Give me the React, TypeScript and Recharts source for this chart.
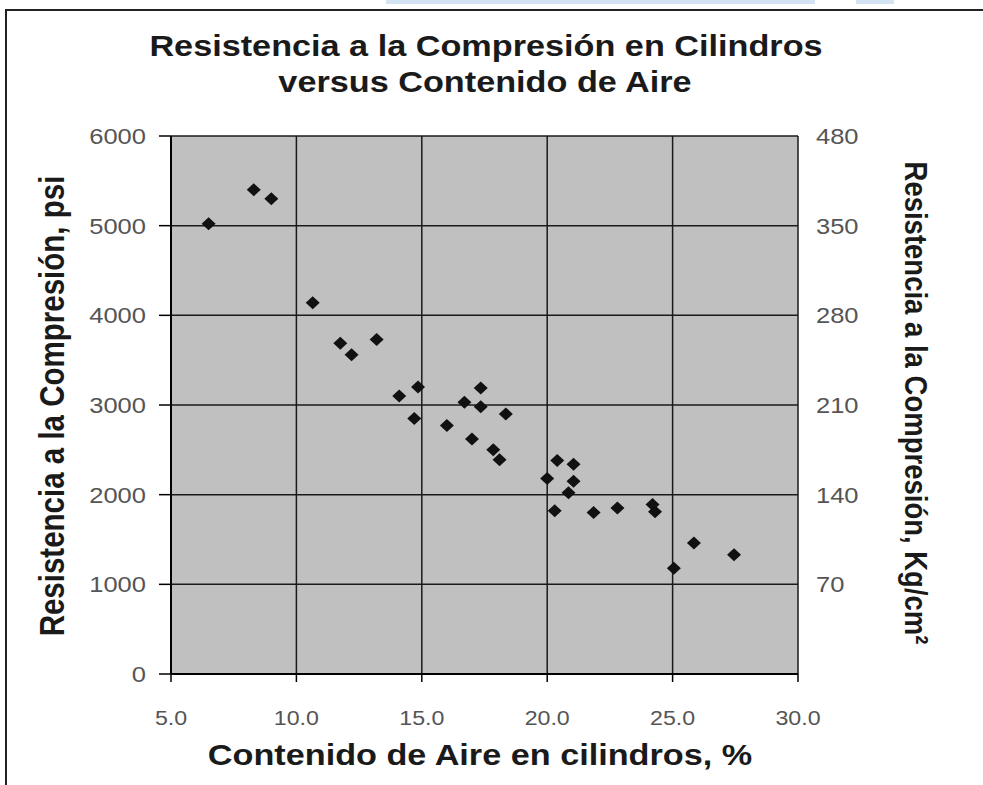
import React from 'react';
import { ScatterChart, Scatter, XAxis, YAxis, CartesianGrid } from 'recharts';

// % air content vs. cylinder compressive strength (psi)
const airContent = [
  6.5, 8.3, 9.0, 10.65, 11.75, 12.2, 13.2, 14.1, 14.85, 14.7, 16.0,
  16.7, 17.35, 17.35, 17.0, 17.85, 18.1, 18.35, 20.4, 21.05, 20.0,
  21.05, 20.85, 20.3, 21.85, 22.8, 24.2, 24.3, 25.85, 27.45, 25.05,
];
const strengthPsi = [
  5020, 5400, 5300, 4140, 3690, 3560, 3730, 3100, 3200, 2850, 2770,
  3030, 3190, 2980, 2620, 2500, 2390, 2900, 2380, 2340, 2180,
  2150, 2020, 1820, 1800, 1850, 1890, 1810, 1460, 1330, 1180,
];

const xTicks = [5, 10, 15, 20, 25, 30];
const psiTicks = [0, 1000, 2000, 3000, 4000, 5000, 6000];
const kgTickValues = [1000, 2000, 3000, 4000, 5000, 6000];
const kgTickLabels = ['70', '140', '210', '280', '350', '480'];

const FONT = '"Liberation Sans", Arial, sans-serif';
const SX = 1.16; // the source picture is a bit wider than tall

const points = airContent.map((x, i) => ({ x, y: strengthPsi[i] }));

function Diamond(props: any) {
  const { cx, cy } = props;
  if (cx == null || cy == null) return null;
  return (
    <polygon
      points={`${cx},${cy - 6.5} ${cx + 7},${cy} ${cx},${cy + 6.5} ${cx - 7},${cy}`}
      fill="#111"
    />
  );
}

// only there so the right-hand axis has a series to scale from
function Nothing() {
  return <g />;
}

function makeTick(anchor: 'start' | 'middle' | 'end', size: number, fmt: (v: number) => string) {
  return (p: any) => (
    <text
      transform={`translate(${p.x},${p.y}) scale(${SX},1)`}
      textAnchor={anchor}
      dominantBaseline="central"
      fontSize={size}
      fontFamily={FONT}
      fill="#555"
    >
      {fmt(p.payload.value)}
    </text>
  );
}

const labelStyle: React.CSSProperties = {
  position: 'absolute',
  whiteSpace: 'nowrap',
  fontFamily: FONT,
  fontWeight: 'bold',
  color: '#1a1a1a',
  lineHeight: 1,
};

export default function App() {
  return (
    <div style={{ position: 'absolute', left: 0, top: 0, width: 983, height: 785, background: '#fff', overflow: 'hidden' }}>
      <div style={{ position: 'absolute', left: 386, top: 0, width: 429, height: 4, background: '#d3e3f3' }} />
      <div style={{ position: 'absolute', left: 856, top: 0, width: 38, height: 4, background: '#d3e3f3' }} />

      <div style={{ ...labelStyle, left: 486, top: 46, fontSize: 29.5, transform: `translate(-50%,-50%) scaleX(${SX})` }}>
        Resistencia a la Compresión en Cilindros
      </div>
      <div style={{ ...labelStyle, left: 485, top: 82, fontSize: 29.5, transform: `translate(-50%,-50%) scaleX(${SX})` }}>
        versus Contenido de Aire
      </div>

      <div style={{ position: 'absolute', left: 0, top: 0 }}>
        <ScatterChart width={983} height={785} margin={{ top: 136, right: 0, bottom: 0, left: 0 }}>
          <CartesianGrid fill="#c0c0c0" stroke="#1a1a1a" strokeWidth={1.5} />
          <XAxis
            type="number"
            dataKey="x"
            domain={[5, 30]}
            ticks={xTicks}
            interval={0}
            height={111}
            tickSize={8}
            tickMargin={36}
            axisLine={{ stroke: '#000', strokeWidth: 2 }}
            tickLine={{ stroke: '#000', strokeWidth: 1.5 }}
            tick={makeTick('middle', 20, (v) => v.toFixed(1))}
          />
          <YAxis
            type="number"
            dataKey="y"
            domain={[0, 6000]}
            ticks={psiTicks}
            interval={0}
            width={171}
            tickSize={12}
            tickMargin={13}
            axisLine={{ stroke: '#000', strokeWidth: 2 }}
            tickLine={{ stroke: '#000', strokeWidth: 1.5 }}
            tick={makeTick('end', 22, (v) => String(v))}
          />
          <YAxis
            yAxisId="right"
            orientation="right"
            type="number"
            dataKey="y"
            domain={[0, 6000]}
            ticks={kgTickValues}
            interval={0}
            width={185}
            tickSize={0}
            tickMargin={18}
            axisLine={false}
            tickLine={false}
            tick={makeTick('start', 22, (v) => kgTickLabels[kgTickValues.indexOf(v)] ?? '')}
          />
          <Scatter data={points} shape={<Diamond />} isAnimationActive={false} />
          <Scatter data={points} yAxisId="right" shape={<Nothing />} legendType="none" isAnimationActive={false} />
        </ScatterChart>
      </div>

      <div style={{ ...labelStyle, left: 52, top: 406, fontSize: 29.5, transform: `translate(-50%,-50%) scaleX(${SX}) rotate(-90deg)` }}>
        Resistencia a la Compresión, psi
      </div>
      <div style={{ ...labelStyle, left: 916, top: 403, fontSize: 27.5, transform: `translate(-50%,-50%) scaleX(${SX}) rotate(90deg)` }}>
        Resistencia a la Compresión, Kg/cm²
      </div>
      <div style={{ ...labelStyle, left: 480, top: 755, fontSize: 29.5, transform: `translate(-50%,-50%) scaleX(${SX})` }}>
        Contenido de Aire en cilindros, %
      </div>

      <div
        style={{
          position: 'absolute', left: 5, top: 9, width: 978, height: 776, pointerEvents: 'none',
          borderTop: '2px solid #222', borderLeft: '2px solid #222', boxSizing: 'border-box',
        }}
      />
    </div>
  );
}
